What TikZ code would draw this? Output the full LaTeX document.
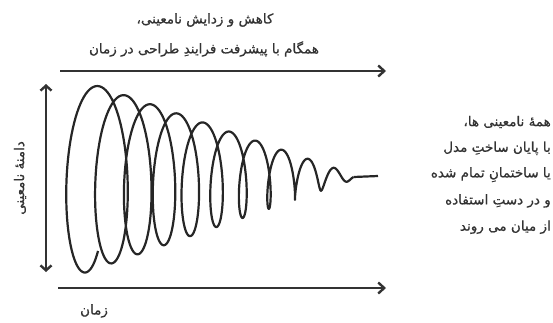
\documentclass[tikz,border=0pt]{standalone}
\usepackage{fontspec}
\newfontfamily\arabicfont[Script=Arabic, FakeBold=0.8]{DejaVu Sans}
\TeXXeTstate=1
\usetikzlibrary{arrows.meta, positioning}

\begin{document}
\begin{tikzpicture}[x=1pt, y=-1pt,
  axis/.style={line width=2.4pt, draw=black!80, -{Straight Barb[length=6pt,width=11pt]}},
  rangearrow/.style={line width=2.4pt, draw=black!80, {Straight Barb[length=5pt,width=11pt]}-{Straight Barb[length=5pt,width=11pt]}},
  fa/.style={font=\arabicfont\fontsize{13.5}{16}\selectfont, text=black!80, inner sep=1pt}]
\useasboundingbox (0,0) rectangle (553,322);
% axes
\coordinate (topL) at (60,71);
\coordinate (topR) at (386,71);
\coordinate (botL) at (58,288);
\coordinate (botR) at (386,288);
\coordinate (rngT) at (46,84);
\coordinate (rngB) at (46,272);
\draw[axis] (topL) -- (topR);
\draw[axis] (botL) -- (botR);
\draw[rangearrow] (rngT) -- (rngB);
% damped spiral
\draw[line width=2.2pt, black!85, line join=round]
  plot[domain=50:3780, samples=900, variable=\t]
  ({78+26.3*(\t/360) + max(0.6,25.8-2.6*(\t/360))*cos(\t)},
   {177 + max(1.5,97.8-9.1*(\t/360))*sin(\t)})
  coordinate (spEnd);
\coordinate (tail) at (378,176);
\draw[line width=2.2pt, black!85] (spEnd) -- (tail);
% labels
\node[fa] (t1) at (205,20) {\beginR کاهش و زدایش نامعینی،\endR};
\node[fa] (t2) at (204,49) {\beginR همگام با پیشرفت فرایندِ طراحی در زمان\endR};
\node[fa] (time) at (94,311) {\beginR زمان\endR};
\node[fa, rotate=90] (rng) at (20,178) {\beginR دامنهٔ نامعینی\endR};
\foreach \lab [count=\i from 0] in {همهٔ نامعینی ها،,با پایان ساختِ مدل,یا ساختمانِ تمام شده,و در دستِ استفاده,از میان می روند}
  \node[fa, anchor=east] (r\i) at (552,122+26.3*\i) {\beginR\lab\endR};
\end{tikzpicture}
\end{document}
